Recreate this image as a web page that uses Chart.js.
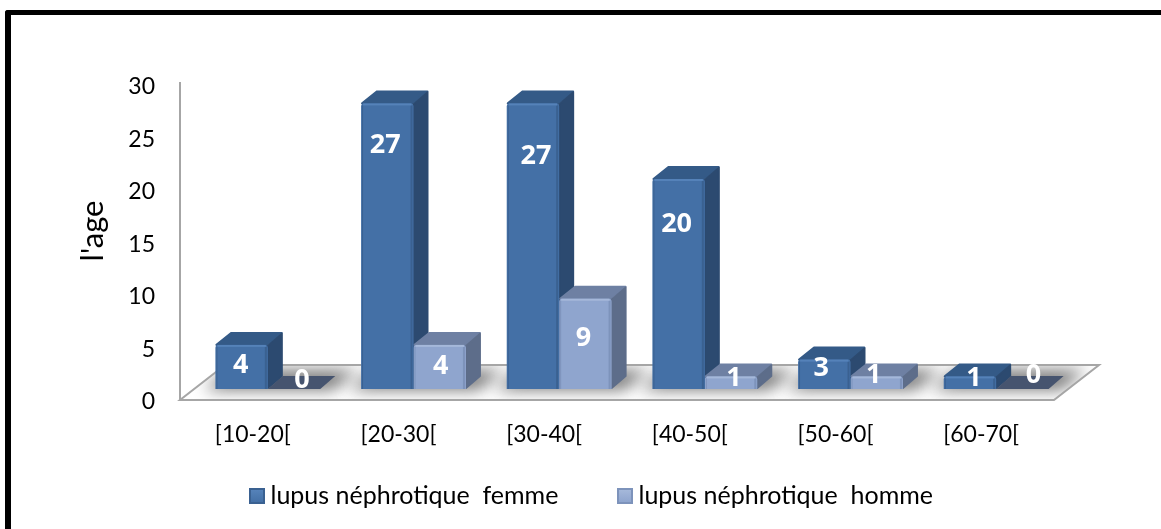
<!DOCTYPE html>
<html>
<head>
<meta charset="utf-8">
<style>
  html, body { margin: 0; padding: 0; background: #fff; overflow: hidden; }
  #wrap { position: relative; width: 1161px; height: 529px; }
  #frame { position: absolute; left: 5px; top: 10px; right: 0; bottom: 0; border-top: 5px solid #000; border-left: 6px solid #000; border-top-left-radius: 3px; }
  canvas { position: absolute; left: 0; top: 0; }
</style>
<script src="https://cdn.jsdelivr.net/npm/chart.js@4"></script>
</head>
<body>
<div id="wrap">
  <div id="frame"></div>
  <canvas id="chart" width="1161" height="529"></canvas>
</div>
<script>
const categories = ["[10-20[", "[20-30[", "[30-40[", "[40-50[", "[50-60[", "[60-70["];
// bar heights, the printed labels are these rounded
const femme = [4.2, 27.2, 27.2, 20, 2.8, 1.2];
const homme = [0, 4.2, 8.6, 1.2, 1.2, 0];
const femmeLabel = "lupus néphrotique  femme";
const hommeLabel = "lupus néphrotique  homme";
const axisTitle = "l'age";

// hand moved labels in the original, [dx, dy] from the top middle of the bar
const femmeLabelMove = [[-1, 20], [-2, 42], [3, 53], [-2, 45], [-3, 9], [4, 2]];
const hommeLabelMove = [[8, -9], [1, 21], [-2, 40], [3, 2], [-3, -1], [11, -14]];

const fontName = "Lato, sans-serif";
const barShiftX = 15, barShiftY = -11;
const sideX = 15, sideY = -13;
const floorX = 45, floorY = -35;

const colors = [
  { front: "#4470a6", light: "#5582b9", dark: "#3a6191", side: "#2c4a70", top: "#345a87", flat: "#46546f" },
  { front: "#8fa5ce", light: "#a5b8da", dark: "#7d93bb", side: "#5d6d8a", top: "#6e80a3", flat: "#46546f" }
];

function poly(ctx, pts) {
  ctx.beginPath();
  pts.forEach(function (p, i) {
    if (i == 0) ctx.moveTo(p[0], p[1]);
    else ctx.lineTo(p[0], p[1]);
  });
  ctx.closePath();
}

function paint(ctx, pts, color) {
  ctx.fillStyle = color;
  ctx.strokeStyle = color;
  ctx.lineWidth = 2;
  ctx.lineJoin = "round";
  poly(ctx, pts);
  ctx.fill();
  ctx.stroke();
}

function drawSides(ctx, bar, col) {
  const l = bar.x - bar.width / 2, r = bar.x + bar.width / 2;
  const t = bar.y, b = bar.base;
  if (b - t < 1) {
    ctx.fillStyle = col.flat;
    poly(ctx, [[l, t], [r, t], [r + sideX, t + sideY], [l + sideX, t + sideY]]);
    ctx.fill();
    return;
  }
  paint(ctx, [[l + 1, t], [r - 1, t], [r + sideX - 1, t + sideY + 1], [l + sideX + 1, t + sideY + 1]], col.top);
  paint(ctx, [[r, t + 1], [r + sideX - 1, t + sideY + 2], [r + sideX - 1, b + sideY], [r, b - 1]], col.side);
}

const floorPlugin = {
  id: "floor3d",
  beforeDatasetsDraw(chart) {
    const ctx = chart.ctx;
    const a = chart.chartArea;
    const x = chart.scales.x;
    const step = x.getPixelForValue(1) - x.getPixelForValue(0);
    const floor = [[a.left, a.bottom], [a.right, a.bottom], [a.right + floorX, a.bottom + floorY], [a.left + floorX, a.bottom + floorY]];

    ctx.save();
    poly(ctx, floor);
    ctx.fillStyle = "#fff";
    ctx.fill();
    ctx.clip();
    // soft shadow under each group of bars
    ctx.filter = "blur(8px)";
    ctx.fillStyle = "#777";
    categories.forEach(function (c, i) {
      const cx = x.getPixelForValue(i) + barShiftX;
      const w = step * 0.36 + 12;
      const y0 = a.bottom + barShiftY + 1;
      poly(ctx, [[cx - w, y0], [cx + w, y0], [cx + w + 26, y0 - 20], [cx - w + 26, y0 - 20]]);
      ctx.fill();
    });
    ctx.restore();

    ctx.save();
    ctx.strokeStyle = "#a6a6a6";
    ctx.lineWidth = 2;
    poly(ctx, floor);
    ctx.stroke();
    ctx.beginPath();
    ctx.moveTo(a.left, a.top - 3);
    ctx.lineTo(a.left, a.bottom);
    ctx.stroke();
    ctx.restore();

    // bars stand in the middle of the floor depth
    ctx.save();
    ctx.translate(barShiftX, barShiftY);
    // sides first, femme then homme, the library paints the fronts after this
    [0, 1].forEach(function (d) {
      chart.getDatasetMeta(d).data.forEach(function (bar) {
        drawSides(ctx, bar, colors[d]);
      });
    });
  },
  afterDatasetDraw(chart, args) {
    const ctx = chart.ctx;
    const col = colors[args.index];
    args.meta.data.forEach(function (bar) {
      if (bar.base - bar.y < 1) return;
      const l = bar.x - bar.width / 2;
      ctx.fillStyle = col.dark;
      ctx.fillRect(l + bar.width - 3, bar.y + 2, 2, bar.base - bar.y - 2);
      ctx.fillRect(l + 1, bar.y + 2, 1, bar.base - bar.y - 2);
      ctx.fillStyle = col.light;
      ctx.fillRect(l + 2, bar.y, bar.width - 4, 2);
    });
  },
  afterDatasetsDraw(chart) {
    const ctx = chart.ctx;
    ctx.restore();

    // value labels
    ctx.save();
    ctx.fillStyle = "#fff";
    ctx.font = "bold 27px 'Open Sans', sans-serif";
    ctx.textAlign = "center";
    ctx.textBaseline = "middle";
    [femmeLabelMove, hommeLabelMove].forEach(function (moves, d) {
      chart.getDatasetMeta(d).data.forEach(function (bar, i) {
        const v = chart.data.datasets[d].data[i];
        ctx.fillText(String(Math.round(v)), bar.x + barShiftX + moves[i][0], bar.y + barShiftY + moves[i][1]);
      });
    });
    ctx.restore();

    // axis title
    ctx.save();
    ctx.translate(93, 231);
    ctx.rotate(-Math.PI / 2);
    ctx.fillStyle = "#000";
    ctx.font = "31px " + fontName;
    ctx.textAlign = "center";
    ctx.textBaseline = "middle";
    ctx.fillText(axisTitle, 0, 0);
    ctx.restore();

    // legend
    ctx.save();
    ctx.font = "25px " + fontName;
    ctx.textBaseline = "middle";
    const legendY = 496, startX = [249, 617];
    chart.data.datasets.forEach(function (ds, d) {
      const col = colors[d];
      const x0 = startX[d];
      const g = ctx.createLinearGradient(0, legendY - 6, 0, legendY + 6);
      g.addColorStop(0, col.light);
      g.addColorStop(1, col.front);
      ctx.fillStyle = col.dark;
      ctx.fillRect(x0, legendY - 8, 16, 16);
      ctx.fillStyle = g;
      poly(ctx, [[x0 + 2, legendY - 6], [x0 + 14, legendY - 6], [x0 + 14, legendY + 6], [x0 + 2, legendY + 6]]);
      ctx.fill();
      ctx.fillStyle = "#000";
      ctx.fillText(ds.label, x0 + 21.5, legendY);
    });
    ctx.restore();
  }
};

new Chart(document.getElementById("chart"), {
  type: "bar",
  data: {
    labels: categories,
    datasets: [
      { label: femmeLabel, data: femme, backgroundColor: colors[0].front, borderRadius: { topLeft: 3, topRight: 3 } },
      { label: hommeLabel, data: homme, backgroundColor: colors[1].front, borderRadius: { topLeft: 3, topRight: 3 } }
    ]
  },
  plugins: [floorPlugin],
  options: {
    responsive: false,
    animation: false,
    layout: { padding: { top: 85, right: 107, bottom: 69, left: 20 } },
    categoryPercentage: 0.72,
    barPercentage: 1,
    plugins: { legend: { display: false }, tooltip: { enabled: false } },
    scales: {
      x: {
        grid: { display: false, drawTicks: false },
        border: { display: false },
        ticks: { color: "#000", padding: 21, maxRotation: 0, font: { family: fontName, size: 23 } },
        afterFit(s) { s.height = 60; }
      },
      y: {
        min: 0,
        max: 30,
        grid: { display: false, drawTicks: false },
        border: { display: false },
        ticks: { stepSize: 5, color: "#000", padding: 25, labelOffset: 2, font: { family: fontName, size: 23 } },
        afterFit(s) { s.width = 160; }
      }
    }
  }
});
</script>
</body>
</html>
